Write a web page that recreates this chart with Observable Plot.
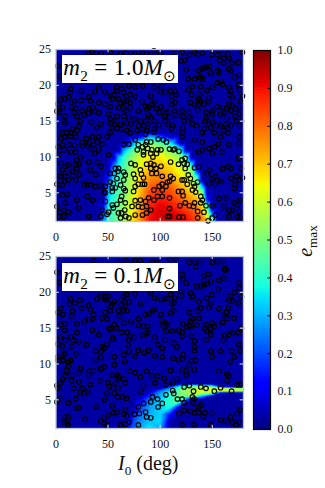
<!DOCTYPE html>
<html><head><meta charset="utf-8">
<script src="https://cdn.jsdelivr.net/npm/d3@7"></script>
<script src="https://cdn.jsdelivr.net/npm/@observablehq/plot@0.6"></script>
<style>
html,body{margin:0;background:#fff}
#c{position:relative;width:325px;height:488px;overflow:hidden;font-family:"Liberation Serif",serif;color:#111}
#c svg{position:absolute;left:0;background:transparent}
.lab{position:absolute;background:#fff;box-sizing:border-box;font-size:23px;white-space:nowrap;text-align:center;line-height:26px;width:116px;height:28px;left:62px;color:#000;letter-spacing:.4px}
.lab i{font-style:italic}.lab sub,.t sub{font-size:66%;line-height:0}
.t{position:absolute;white-space:nowrap}
</style></head><body><div id="c"></div>
<script>
const xTicks=[0,50,100,150], yTicks=[5,10,15,20,25], barTicks=[0,.1,.2,.3,.4,.5,.6,.7,.8,.9,1];
const jetStops=[0,.11,.125,.34,.35,.375,.64,.65,.66,.89,.91,1];
const jetColors=["rgb(0,0,127)","rgb(0,0,255)","rgb(0,0,255)","rgb(0,219,255)","rgb(0,230,247)","rgb(21,255,226)","rgb(239,255,8)","rgb(247,246,0)","rgb(255,236,0)","rgb(255,19,0)","rgb(232,0,0)","rgb(127,0,0)"];

const heatCols1=[0,40,45,50,55,60,65,70,75,80,90,100,110,120,125,130,135,140,145,150,155,180];
const heatRows1=[1,2,3,4,5,6,7,8,9,10,11,12,13,13.4,25];
const heat1=[
[.03,.03,.25,.40,.45,.50,.55,.62,.68,.75,.90,.93,.94,.92,.91,.88,.85,.80,.70,.50,.03,.03],
[.03,.03,.18,.38,.44,.50,.55,.62,.68,.75,.89,.93,.93,.90,.88,.85,.81,.75,.62,.25,.03,.03],
[.03,.03,.10,.36,.42,.48,.54,.60,.66,.74,.88,.92,.90,.86,.83,.80,.77,.70,.45,.03,.03,.03],
[.03,.03,.04,.33,.40,.46,.52,.58,.65,.72,.86,.89,.87,.81,.78,.75,.72,.62,.15,.03,.03,.03],
[.03,.03,.03,.30,.38,.44,.50,.56,.63,.70,.84,.86,.84,.77,.74,.69,.66,.55,.05,.03,.03,.03],
[.03,.03,.03,.25,.36,.42,.50,.55,.62,.68,.80,.83,.80,.72,.68,.63,.60,.30,.03,.03,.03,.03],
[.03,.03,.03,.15,.34,.40,.47,.54,.61,.67,.76,.78,.74,.67,.63,.60,.45,.03,.03,.03,.03,.03],
[.03,.03,.03,.05,.30,.38,.45,.52,.59,.65,.73,.74,.70,.63,.60,.55,.20,.03,.03,.03,.03,.03],
[.03,.03,.03,.03,.20,.35,.42,.50,.57,.62,.70,.70,.66,.60,.56,.35,.03,.03,.03,.03,.03,.03],
[.03,.03,.03,.03,.05,.30,.40,.48,.54,.60,.66,.66,.60,.52,.45,.03,.03,.03,.03,.03,.03,.03],
[.03,.03,.03,.03,.03,.03,.28,.38,.47,.53,.60,.58,.50,.38,.03,.03,.03,.03,.03,.03,.03,.03],
[.03,.03,.03,.03,.03,.03,.03,.12,.30,.40,.50,.45,.34,.03,.03,.03,.03,.03,.03,.03,.03,.03],
[.03,.03,.03,.03,.03,.03,.03,.03,.03,.03,.25,.15,.03,.03,.03,.03,.03,.03,.03,.03,.03,.03],
[.03,.03,.03,.03,.03,.03,.03,.03,.03,.03,.03,.03,.03,.03,.03,.03,.03,.03,.03,.03,.03,.03],
[.03,.03,.03,.03,.03,.03,.03,.03,.03,.03,.03,.03,.03,.03,.03,.03,.03,.03,.03,.03,.03,.03]
];
const heatCols2=[0,65,70,75,80,90,100,110,120,130,140,150,160,170,180];
const heatRows2=[1,2,3,4,5,5.5,6,6.2,6.4,6.6,6.8,7,7.2,25];
const heat2=[
[.03,.05,.14,.22,.28,.36,.30,.03,.03,.03,.03,.03,.03,.03,.03],
[.03,.03,.10,.20,.26,.32,.34,.03,.03,.03,.03,.03,.03,.03,.03],
[.03,.03,.03,.16,.22,.30,.33,.12,.03,.03,.03,.03,.03,.03,.03],
[.03,.03,.03,.03,.18,.28,.33,.38,.03,.03,.03,.03,.03,.03,.03],
[.03,.03,.03,.03,.10,.24,.33,.42,.47,.03,.03,.03,.03,.03,.03],
[.03,.03,.03,.03,.03,.18,.30,.40,.50,.54,.30,.03,.03,.03,.03],
[.03,.03,.03,.03,.03,.08,.28,.38,.50,.57,.60,.55,.03,.03,.03],
[.03,.03,.03,.03,.03,.05,.24,.36,.50,.57,.60,.62,.58,.55,.50],
[.03,.03,.03,.03,.03,.03,.18,.32,.50,.57,.60,.63,.64,.64,.62],
[.03,.03,.03,.03,.03,.03,.03,.28,.47,.55,.60,.60,.60,.58,.55],
[.03,.03,.03,.03,.03,.03,.03,.18,.42,.50,.55,.50,.12,.05,.03],
[.03,.03,.03,.03,.03,.03,.03,.08,.30,.40,.40,.30,.03,.03,.03],
[.03,.03,.03,.03,.03,.03,.03,.03,.03,.03,.03,.03,.03,.03,.03],
[.03,.03,.03,.03,.03,.03,.03,.03,.03,.03,.03,.03,.03,.03,.03]
];

const points1=[
[31,24.5],[35,24.6],[43,24.4],[52,24.6],[62,24.4],[67,24.5],[75.4,24.4],[83,24.5],[87,24.4],[2,22.7],[3.3,21.3],[14,19.5],[13,19],[24.4,19.2],[37,19.1],[41,19.7],[47,19.1],[58,19.7],[52,18.5],[63,19.5],[65,19],[70,19.9],[76,19.8],[83,19.9],[67,18.5],[71,18.7],[58.5,19.2],[55,18.7],[54,18.1],[12,18.3],[8.4,18.1],[18,17.8],[24.4,17.9],[31.4,18.4],[33,17.8],[41,17.6],[47.4,17.4],[52,17],[60,18.1],[62,17.6],[65,17.7],[68,17.8],[71,17.6],[76,18.4],[82.4,17.7],[86,17.1],[5,18.1],[2,17.4],[6,16.9],[15,17],[19,16.8],[17,16.2],[25,16.4],[31.4,16.7],[35,16.9],[37,16.4],[41,16.2],[60,16.9],[65,16.8],[67,16.4],[71,16.9],[79,16.4],[87,16.7],[89,17],[3.3,16.2],[9,15.7],[7.5,15],[1,16.4],[20,15.7],[27,15.9],[31.4,16.1],[50.5,16],[52,15.3],[55,15],[58.5,15.7],[65,15.7],[70,15.5],[76,15.3],[81,15],[86,15],[89,15.8],[8.4,14.7],[23.4,15],[34,14.9],[43,14.6],[52,14.7],[56,14.6],[62,14.6],[67.5,14.7],[72,14.6],[79,14.4],[84,14.4],[88,14.6],[22,14.3],[39.4,14.1],[54,14.1],[58.5,14],[63,13.9],[82.4,13.9],[87,13.7],[15.5,13.9],[14,13.4],[10,13.4],[6,13.4],[20,13.7],[52,13.4],[71,13.4],[68,13.7],[78,13.7],[86,13.2],
[94,24.8],[100,24.4],[113,24.5],[121,24.6],[128,24.2],[133,24.6],[136,24.4],[140.5,24.5],[149.5,24.3],[155,24.3],[159,24.4],[165,24.4],[166,23.8],[161,23.8],[157,23.5],[161,23.1],[169,23.1],[175,23.2],[179,24.6],[124,23.5],[120,23.4],[125,22.2],[127,20.9],[133,20.9],[137,21.1],[137,22.1],[140,22.3],[142,22.5],[147,22.6],[144,22.5],[155,22.1],[156.5,21.8],[148.5,21.7],[166,22.3],[168,22],[171,21.1],[176,21.4],[139,21.1],[140.5,20.9],[155,20.4],[158,20.5],[160,20.1],[150,19.7],[145,19.3],[139,19.8],[131,19.8],[130,18.7],[138,18.8],[127,19.4],[166,19.7],[168,19.2],[175,20.1],[169,18.3],[167,18.7],[176,19.4],[179,18.5],[101,19.7],[101,19.1],[105,19.1],[110,19.2],[114,19.2],[94,19.7],[91,18.5],[115,18.7],[111,18.5],[94,17.7],[92,17.4],[114,17.6],[111,17.4],[136,18.3],[137,18.1],[139,17.7],[137,17.4],[142,17.4],[147,18.3],[146,17.7],[129,17.6],[136,16.6],[155,17],[160,16.9],[166,17.4],[169,17.1],[161,16.2],[158,16],[163.5,16.7],[168,16.5],[172.4,16.7],[176,16.9],[177,17.8],[164.5,15.5],[96,16.8],[100.7,17],[105,16.2],[107,16.2],[114,16.4],[121,16.4],[128,16.3],[133,17.4],[144,16.2],[150,16.4],[91,15.5],[99,16.2],[104,15.7],[109,15.5],[115,15.8],[122,15.7],[128,15.5],[130,15.3],[123,15],[144,15.4],[150,16],[143,15],[146,14.6],[150,14.9],[155,14.4],[158,14.4],[172,15.7],[176,16],[94,15],[99,14.4],[94,13.9],[105,15],[107,14.6],[112,14.4],[122,14.1],[131,14.6],[135,14.4],[142,13.9],[148.5,14.1],[163,14.6],[165,14],[168,14.4],[173,15],[178,15],[176,14.4],[152,13.4],[161,13.7],[165,13.4],[94,13.5],[111,13.9],[121,13.5],[140.5,13.4],
[5,12.6],[8.4,12.8],[14,12.9],[19,12.8],[25,12.1],[29,12.6],[35,12.8],[41,12.8],[49,12.8],[2,11.4],[6.5,11.7],[13,11.7],[18,11.6],[25,11.6],[31.4,11.9],[39.4,12.1],[44,11.8],[36,11.7],[30,11.6],[7.5,11],[3,10.4],[14,10.7],[19,10.7],[34,11.1],[41,11],[37,10.5],[50.5,10.3],[65,11.7],[70,11.8],[78,11],[79,11.7],[83,11.4],[86,11.7],[84,10.3],[84,10.7],[88,11.2],[87,12.1],[76,12.4],[23.4,9.9],[20,9.6],[19,8.9],[5,9.1],[12,8.9],[22,9],[31.4,9.3],[40,9.3],[43.5,8.7],[9,8.7],[6,8.2],[15.5,8],[20,8.4],[33,8.2],[38,7.6],[4.3,7.3],[9,7.3],[13,7.7],[17,7.4],[22.5,7.6],[8.4,6.6],[12,6.8],[1,6.2],[6,6.1],[19,6.8],[27,6.1],[30,6.1],[33,6.1],[38,5.9],[42,6],[47.4,5.9],[57,8.4],[60,8.4],[59.5,8],[65,7.9],[66.5,7.5],[52,7.7],[56,7.7],[72,9.1],[76,8.9],[81,8.2],[87,9],[74.5,7.6],[76,7],[82,7.6],[84,7.1],[79,6.2],[83,6.2],[85,6.2],[58.5,7],[52,6.5],[55,6.3],[62,6.1],[65,6.8],[54,5.7],[57,5.7],[65,5.6],[66.5,5.3],[76,5.9],[74.5,5.2],[47.4,5],[11,4.8],[6,4.7],[30,4.5],[35,4],[46,5.1],[54,5.2],[63,4.5],[62,4],[81,4],[76,3.9],[86,3.8],[89,4.3],[20,4],[54,3.3],[58.5,3.4],[55,2.9],[47.4,3.8],[50.5,2.3],[66.5,3.6],[73,3.1],[79,3.1],[83,3],[87,3.1],[9,3.6],[7.5,2.6],[3.3,2.3],[2.7,1.7],[7.5,1.7],[12,2.3],[31.4,1.7],[44,2.6],[43,1.7],[49,2],[60,2.2],[63,2.2],[66,2.6],[62,1.5],[67,1.7],[70,1.5],[76,1.9],[83,1.9],[87,2.2],[22,2.9],[1,3.1],
[91,12.1],[98,12.5],[103,12.4],[106,12.1],[109,11.1],[112.5,11],[114,11.1],[118,10.8],[92,11],[97.5,11],[100.7,11],[91,10.5],[93,10],[96.5,10.5],[121,12.8],[133.5,12.4],[140.5,12.1],[158,12.8],[176,12.8],[140.5,11],[147,11.2],[152,11.4],[156,11.8],[176,11.9],[137,10.7],[150,10.5],[159,10.7],[166,11.7],[91,9.1],[94,8.9],[91,8.4],[96,8.4],[92,7.7],[96.5,7.7],[100.7,8.7],[110,9.3],[117.6,9],[121,9.6],[124,9.8],[123,9.1],[126,9],[124,8.4],[133,8.5],[137,8.6],[145,7.7],[147.5,8.2],[165,8.7],[168,8.4],[160,8.4],[175,9.8],[178,8.4],[110,7.3],[112.5,7],[109,6.6],[102,7.3],[107,6.5],[121,6.8],[123,6.8],[127,7.5],[129,7],[126,6.2],[136,6.5],[132,6.3],[133,5.9],[131,5.4],[134,5.1],[149.5,7],[153,7.3],[155,6.8],[158,6.6],[153,6.3],[147,6.3],[168,7],[173,7.3],[176,6.8],[179,7.1],[172,6.2],[171,5.6],[102,6.2],[99,5.9],[105.5,5.9],[94,5.4],[102,5.4],[97.5,4.5],[102,4.5],[117.6,5.2],[121,5.2],[122,4.6],[139,4.5],[140.5,4],[171,3.6],[174,3.3],[139,3.6],[156.5,4.2],[163,4.3],[177,4],[109,4.3],[119,3.2],[124,3.6],[128,3.2],[132,3.1],[133,3.6],[144,3.2],[150,3.2],[94,4],[91,2.6],[109,2.8],[107,1.7],[109,1.7],[118,1.6],[122,1.6],[136,2.4],[142,2.3],[161,3.2],[166,2.6],[169,2.6],[176,2.4],[153,1.9],[150,1.5],[146,1.1],[136,1.5],[166,1.7],[174,1.7],[177,1.5]
];
const points2=[
[36,24.4],[61,24.3],[67,24.4],[75.4,24.4],[81,24.4],[1,22.8],[3.3,21.4],[14,19.1],[23,18.9],[39.4,19.1],[43,19.5],[47.4,19.4],[50,19.5],[49,19],[47,19],[65,19.5],[68,19.7],[76,19.8],[63,19],[66.5,18.7],[70,18.7],[81,18.4],[18,18.5],[13,18.4],[31.4,18.2],[53,18.1],[56,18.7],[54,18.4],[66.5,18.1],[63,18.2],[5,17.8],[16,17.4],[24.4,17.8],[33,17.6],[47.4,17.2],[52,17.4],[60,17.5],[65,17.4],[68,17.4],[2,17.2],[6.5,16.9],[15,16.7],[36,16.9],[44,16.4],[49,16.3],[61,16.7],[35,16.3],[31.4,16.2],[27,15.9],[20,15.6],[9,15.6],[5,15.5],[56,15.5],[65,15.7],[72,15.9],[79,16.3],[86,16.9],[89,17],[79,15.4],[84,15.3],[88,15.3],[8.4,14.7],[20,14.4],[35,14.7],[41,14.1],[51,15],[52,14.8],[58,15],[63,14.4],[68,14.4],[71,13.9],[82.4,14],[86,14.2],[88,14.4],[14,13.7],[9,13.4],[17,13.3],[54,13.7],[55,13.5],[4.3,13.7],[74.5,13.7],[70,13.4],[22,13.1],
[92,24.2],[96.5,24.2],[109,24.6],[115,24.6],[128,24.2],[133.5,24.3],[138,24.3],[134,23.6],[150,24.2],[155,24.3],[159,24.3],[162,23.3],[163,23.1],[121,22.5],[122,21.8],[125,21.3],[142,22.3],[146,22.5],[135,20.9],[139,20.9],[142,21.1],[145,21.2],[148.5,21.5],[156.5,21.7],[161,22],[176,21.3],[176,20.6],[91,19.9],[94.6,19.2],[100.7,19],[105,19.1],[107,19.2],[110,19.7],[114,19.2],[120,20.1],[120.5,19.5],[129,19.9],[131,19.4],[145,19.2],[149.5,19.7],[155.5,20.4],[171,20],[167,19.5],[166,19],[169,18.8],[175,18.5],[178,19.4],[113,18.6],[111,18.4],[137,18.7],[148,18.4],[147,17.9],[139,17.8],[136,17.4],[128,17.2],[156.5,17.7],[165.4,17.8],[163.5,17.2],[161,16.8],[171,16.4],[164.5,16.4],[160,15.8],[94,17.6],[92.7,17.4],[100.7,16.9],[110,17.1],[113,17.4],[131,16.3],[129,16],[137,16.4],[102,15.9],[105,15.7],[103,15.3],[107,15.5],[122,15.6],[128,15.4],[129,15.2],[125,15.2],[135,15.4],[144,15.5],[150,15.7],[143,15],[152,15.3],[148.5,14.9],[145,14.6],[106,14.6],[112,14.6],[118,14.7],[121,14.4],[121,13.9],[130,13.9],[148.5,14.1],[162,14],[166,14.1],[169,14.3],[175,14.4],[178,15],[95,13.7],[105,13.4],[133,13.2],[144,13.4],[161,13.4],
[2,12.8],[6,12.5],[15,12.4],[29,12.7],[44,12.4],[49,12.8],[46,12.2],[38,11.8],[69,12.6],[79,11.9],[85,11.6],[89,11.9],[19,11.4],[9,11.5],[7.5,11.3],[43,11.7],[2,11],[14,10.5],[12,10.3],[6.5,10.5],[38,10.6],[43,10.9],[56,11],[65,11.3],[70,11.7],[76,11.1],[56,9.9],[66,10.3],[2,10.5],[12,9.7],[10,9.1],[23.4,9.4],[22.5,8.7],[32,9],[32,8.4],[36,9],[43.5,9.3],[46,9.6],[43,9.4],[9,8.3],[15,8.4],[15,7.7],[6.5,7.9],[4.3,7.3],[54,8.4],[58.5,8.5],[60,8.2],[71,9],[76,8.8],[81,8.2],[87,9],[22,7.5],[33,7.1],[42,7.6],[50,7.4],[51,6.9],[60,7.9],[65,7.9],[66.5,7.4],[57,7.3],[55,6.7],[59.5,6.7],[84,7],[17,6.6],[25,6.6],[23.4,6.1],[27,5.9],[30.4,6.1],[2,6.6],[1,7],[49,5.9],[56,5.9],[64,5.4],[67.5,5.2],[59,5.4],[5,5.3],[19,5.2],[46.4,5],[12,4.6],[19,3.9],[22,3.9],[38.4,4],[54,4.2],[1,4.7],[58.5,3.3],[55,3.2],[50,2.8],[66.5,3.6],[68,2.8],[65,3],[46,2.5],[28,2.3],[12,2.6],[9,2.6],[7.5,1.9],[11,1.9],[11.6,1.5],[43,2],[46,1.7],[49,1.5],[62,1.5],[66.5,1.6],[70,1.9],[79,1.5],[75.4,3],[80,3.1],[84,4.5],[82,6.1],[86,3.3],[87,2.6],[79,4],
[97.5,12.7],[102,12.2],[113,12.9],[116,12.4],[95,11.1],[102,11],[112.5,10.8],[117.6,10.6],[122,11.3],[121,10.7],[133,12.4],[133,11.9],[148.5,11.8],[158,11.8],[168.6,11.8],[175.6,12.7],[177,11.8],[130,10.4],[134,10.5],[128,9.8],[150,11],[167,10.3],[171,11],[110,9.1],[121,9.2],[125,9],[133,9.2],[156.5,9],[92,8.4],[97.5,8.3],[104,8.05],[116.6,7.9],[125,8.4],[164,8.6],[166,8.4],[95,7.4],[105.5,7.1],[112,7.3],[128,7],[123,6.8],[132,6.2],[139,6.8],[144,6.6],[152,6.2],[158,6.7],[168.6,6.2],[174,7.1],[177,7.1],[164.5,7.7],[112,6.3],[113,5.9],[105.5,5.7],[92.7,5.4],[97.5,5.1],[91,4.7],[98,4],[102,4.5],[116.6,5.1],[121,5.1],[123,4.6],[131,5.4],[132.6,5.1],[131.6,4.6],[139,4.3],[137,4],[123,3.5],[118,3.1],[129,3.4],[132.6,3.2],[137,3.2],[143,3.2],[149.5,3.1],[91,2.5],[121,1.5],[141.5,2.6],[158,2.2],[163,2],[167.6,2.6],[174,3.1],[176,1.9],[169,1.9],[173,1.5],[132.6,1.5],[177,3.6],[148.5,1.5]
];

const jet={type:"linear",domain:jetStops,range:jetColors,interpolate:"rgb",clamp:true};
const font={fontFamily:"Liberation Serif",fontSize:"12px"};
const frameCol="#b9c4d8";
function panel(points,heat,cols,rows,top){
  const cells=rows.flatMap((y,i)=>cols.map((x,j)=>({x,y,v:heat[i][j]})));
  const p=Plot.plot({width:325,height:200,marginLeft:55.5,marginRight:82,marginTop:5,marginBottom:23,
    style:{background:"transparent",overflow:"visible",...font},
    x:{domain:[0,180],label:null},y:{domain:[1,25],label:null},color:jet,
    marks:[
      Plot.raster(cells,{x:"x",y:"y",fill:"v",interpolate:"barycentric",pixelSize:1}),
      Plot.dot(points,{x:d=>d[0],y:d=>d[1],r:2.3,stroke:"#000",strokeWidth:1.15,fill:"none"}),
      Plot.ruleX(xTicks.slice(1),{x:d=>d,y1:1,y2:1.45,stroke:"#dde3ee"}),
      Plot.ruleX(xTicks.slice(1),{x:d=>d,y1:25,y2:24.55,stroke:"#dde3ee"}),
      Plot.ruleY(yTicks.slice(0,4),{y:d=>d,x1:0,x2:3.2,stroke:"#dde3ee"}),
      Plot.ruleY(yTicks.slice(0,4),{y:d=>d,x1:180,x2:176.8,stroke:"#dde3ee"}),
      Plot.frame({stroke:frameCol,strokeWidth:1.3}),
      Plot.axisX(xTicks,{tickSize:0,tickPadding:11,label:null,stroke:null}),
      Plot.axisY(yTicks,{tickSize:0,tickPadding:5,label:null,stroke:null})
    ]});
  p.style.top=top+"px";
  return p;
}
const c=document.getElementById("c");
c.append(panel(points1,heat1,heatCols1,heatRows1,44));
c.append(panel(points2,heat2,heatCols2,heatRows2,251));
const levels=d3.range(0,1,1/256);
const bar=Plot.plot({width:325,height:396,marginLeft:253,marginRight:55,marginTop:6,marginBottom:11,
  style:{background:"transparent",overflow:"visible",...font},
  x:{domain:[0,1],axis:null},y:{domain:[0,1],label:null},color:jet,
  marks:[
    Plot.rect(levels,{x1:0,x2:1,y1:d=>d,y2:d=>d+1/256,fill:d=>d+.5/256,shapeRendering:"crispEdges"}),
    Plot.ruleY(barTicks.slice(1,10),{y:d=>d,x1:.84,x2:1,stroke:"#000"}),
    Plot.frame({stroke:"#000",strokeWidth:1.2}),
    Plot.axisY(barTicks,{anchor:"right",tickSize:0,tickPadding:7,label:null,stroke:null,tickFormat:".1f"})
  ]});
bar.style.top="44px";
c.append(bar);
function html(cls,h,css){const d=document.createElement("div");d.className=cls;d.innerHTML=h;Object.assign(d.style,css);c.append(d);}
html("lab","<i>m</i><sub>2</sub> = 1.0<i>M</i><sub>⊙</sub>",{top:"55px"});
html("lab","<i>m</i><sub>2</sub> = 0.1<i>M</i><sub>⊙</sub>",{top:"263px"});
html("t","<i>I</i><sub>0</sub> (deg)",{left:"118px",top:"452px",fontSize:"20px"});
html("t","<i>e</i><sub>max</sub>",{left:"305px",top:"241px",fontSize:"20px",transform:"translate(-50%,-50%) rotate(-90deg)"});
</script></body></html>
